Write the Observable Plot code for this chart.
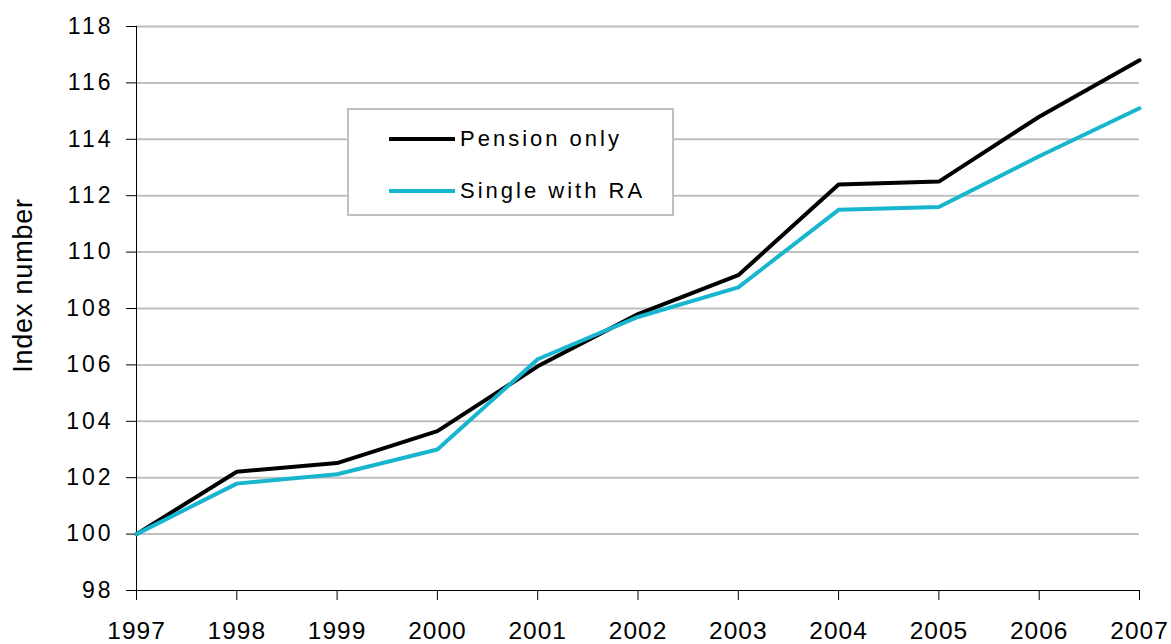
<!DOCTYPE html>
<html><head><meta charset="utf-8">
<script src="https://cdn.jsdelivr.net/npm/d3@7"></script>
<script src="https://cdn.jsdelivr.net/npm/@observablehq/plot@0.6"></script>
<style>
body{margin:0;background:#fff;}
#wrap{position:relative;width:1171px;height:644px;overflow:hidden;}
#chart svg g[aria-label="y-axis tick label"]{font-family:"Liberation Sans",Arial,sans-serif !important;font-size:23px !important;letter-spacing:3px;fill:#000;}
#chart svg g[aria-label="x-axis tick label"]{font-family:"Liberation Sans",Arial,sans-serif !important;font-size:24.5px !important;letter-spacing:1px;fill:#000;}
#chart svg g[aria-label="text"]{letter-spacing:0.8px;}
#legend{position:absolute;left:347px;top:108px;width:327px;height:108px;border:2px solid #bfbfbf;background:#fff;box-sizing:border-box;font-family:"Liberation Sans",Arial,sans-serif;font-size:22px;letter-spacing:3px;color:#000;}
.item{position:absolute;left:40px;height:30px;display:flex;align-items:center;}
.sw{width:66px;height:4px;margin-right:5px;}
</style></head>
<body>
<div id="wrap"><div id="chart"></div>
<div id="legend">
  <div class="item" style="top:14px"><span class="sw" style="background:#000"></span><span>Pension only</span></div>
  <div class="item" style="top:66px"><span class="sw" style="background:#17b6ce"></span><span>Single with RA</span></div>
</div></div>
<script>
const years = [1997, 1998, 1999, 2000, 2001, 2002, 2003, 2004, 2005, 2006, 2007];
const pensionOnly = [100, 102.21, 102.52, 103.65, 105.95, 107.8, 109.18, 112.4, 112.5, 114.8, 116.8];
const singleWithRA = [100, 101.79, 102.12, 103.0, 106.2, 107.7, 108.75, 111.5, 111.6, 113.4, 115.1];
const seriesNames = ["Pension only", "Single with RA"];
const seriesColors = ["#000000", "#17b6ce"];
const yTicks = [98, 100, 102, 104, 106, 108, 110, 112, 114, 116, 118];

const data = [];
years.forEach((yr, i) => {
  data.push({year: yr, value: pensionOnly[i], series: seriesNames[0]});
});
years.forEach((yr, i) => {
  data.push({year: yr, value: singleWithRA[i], series: seriesNames[1]});
});

const chart = Plot.plot({
  width: 1171,
  height: 644,
  marginLeft: 136,
  marginRight: 32,
  marginTop: 26,
  marginBottom: 54,
  x: {domain: [1997, 2007], type: "linear"},
  y: {domain: [98, 118]},
  color: {domain: seriesNames, range: seriesColors},
  marks: [
    Plot.gridY(yTicks.filter(d => d !== 98), {stroke: "#bfbfbf", strokeOpacity: 1, strokeWidth: 2}),
    Plot.axisY(yTicks, {tickSize: 10, tickPadding: 13, label: null, stroke: "#000"}),
    Plot.axisX(years, {tickSize: 10, tickPadding: 21, label: null, tickFormat: d => String(d), stroke: "#000"}),
    Plot.ruleX([1997], {stroke: "#000", strokeWidth: 1}),
    Plot.ruleY([98], {stroke: "#000", strokeWidth: 1}),
    Plot.line(data, {x: "year", y: "value", z: "series", stroke: "series", strokeWidth: 4, strokeLinejoin: "miter"}),
    Plot.text(["Index number"], {frameAnchor: "left", textAnchor: "middle", dx: -113, dy: -23, rotate: -90, fill: "#000", fontSize: 27, fontFamily: "Liberation Sans, Arial, sans-serif"})
  ]
});
document.getElementById("chart").appendChild(chart);
</script>
</body></html>
